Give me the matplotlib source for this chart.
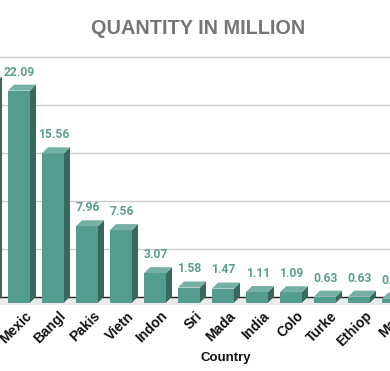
import numpy as np
import matplotlib
matplotlib.use("Agg")
import matplotlib.pyplot as plt
from matplotlib.patches import Polygon
import matplotlib.transforms as mtransforms

# data (chart is cropped: the first and last bars are partly off the picture)
countries = ["Chin", "Mexic", "Bangl", "Pakis", "Vietn", "Indon", "Sri",
             "Mada", "India", "Colo", "Turke", "Ethiop", "Mala"]
quantity = [22.9, 22.09, 15.56, 7.96, 7.56, 3.07, 1.58,
            1.47, 1.11, 1.09, 0.63, 0.63, 0.41]
value_labels = ["22.90", "22.09", "15.56", "7.96", "7.56", "3.07", "1.58",
                "1.47", "1.11", "1.09", "0.63", "0.63", "0.41"]

front_c = "#549d8e"
side_c = "#37695e"
top_c = "#74b0a3"
label_c = "#5a9f90"

W, H = 390, 371
fig = plt.figure(figsize=(W / 100, H / 100), dpi=100)

# axes geometry in pixels (top-down)
ax_top_px, ax_bot_px = 50.0, 306.0
zero_px = 296.7
ppu = 9.6  # pixels per unit on y
ymin = -(ax_bot_px - zero_px) / ppu
ymax = (zero_px - ax_top_px) / ppu
ax = fig.add_axes([0, (H - ax_bot_px) / H, 1, (ax_bot_px - ax_top_px) / H])

step = 34.0  # px per category
x0_px = -15.0  # front centre of first (cropped) bar
xlo = (0 - x0_px) / step
xhi = (W - x0_px) / step
ax.set_xlim(xlo, xhi)
ax.set_ylim(ymin, ymax)
ax.axis("off")

hw = 11.0 / step
dx = 6.0 / step
dy = 6.0 / ppu

# gridlines
for g in [5, 10, 15, 20, 25]:
  ax.plot([xlo, xhi], [g, g], color="#cccccc", lw=1.0, zorder=1)

# floor
ax.add_patch(Polygon([[xlo, -0.85], [xhi, -0.85], [xhi, 0], [xlo, 0]],
                     closed=True, facecolor="#ebebeb", edgecolor="none",
                     zorder=1))
ax.plot([xlo, xhi], [0, 0], color="#222222", lw=1.0, zorder=2)

pos = np.arange(len(countries))
for c, v, lab in zip(pos, quantity, value_labels):
  ax.add_patch(Polygon([[c - hw, -dy], [c + hw, -dy], [c + hw, v - dy],
                        [c - hw, v - dy]], closed=True, facecolor=front_c,
                       edgecolor="none", zorder=3))
  ax.add_patch(Polygon([[c + hw, -dy], [c + hw + dx, 0], [c + hw + dx, v],
                        [c + hw, v - dy]], closed=True, facecolor=side_c,
                       edgecolor="none", zorder=3))
  ax.add_patch(Polygon([[c - hw, v - dy], [c - hw + dx, v], [c + hw + dx, v],
                        [c + hw, v - dy]], closed=True, facecolor=top_c,
                       edgecolor="none", zorder=3))
  ax.text(c + 0.02, v + 0.95, lab, ha="center", va="baseline",
          fontsize=8.7, fontweight="bold", color=label_c, family="Roboto",
          zorder=4)

# rotated category labels
trans = mtransforms.blended_transform_factory(ax.transData, fig.transFigure)
for c, name in zip(pos, countries):
  ax.text(c + 5.5 / step, 1 - 309.0 / H, name, transform=trans,
          rotation=45, rotation_mode="anchor", ha="right", va="top",
          fontsize=10, fontweight="bold", color="#111111",
          family="Liberation Sans", clip_on=False)

fig.text(0.509, 1 - 28.5 / H, "QUANTITY IN MILLION", ha="center",
         va="center", fontsize=14.3, fontweight="bold", color="#757575",
         family="Liberation Sans")
fig.text(226 / W, 1 - 358 / H, "Country", ha="center", va="center",
         fontsize=9.5, fontweight="bold", color="#111111",
         family="Liberation Sans")

fig.savefig("out.png", dpi=100)
